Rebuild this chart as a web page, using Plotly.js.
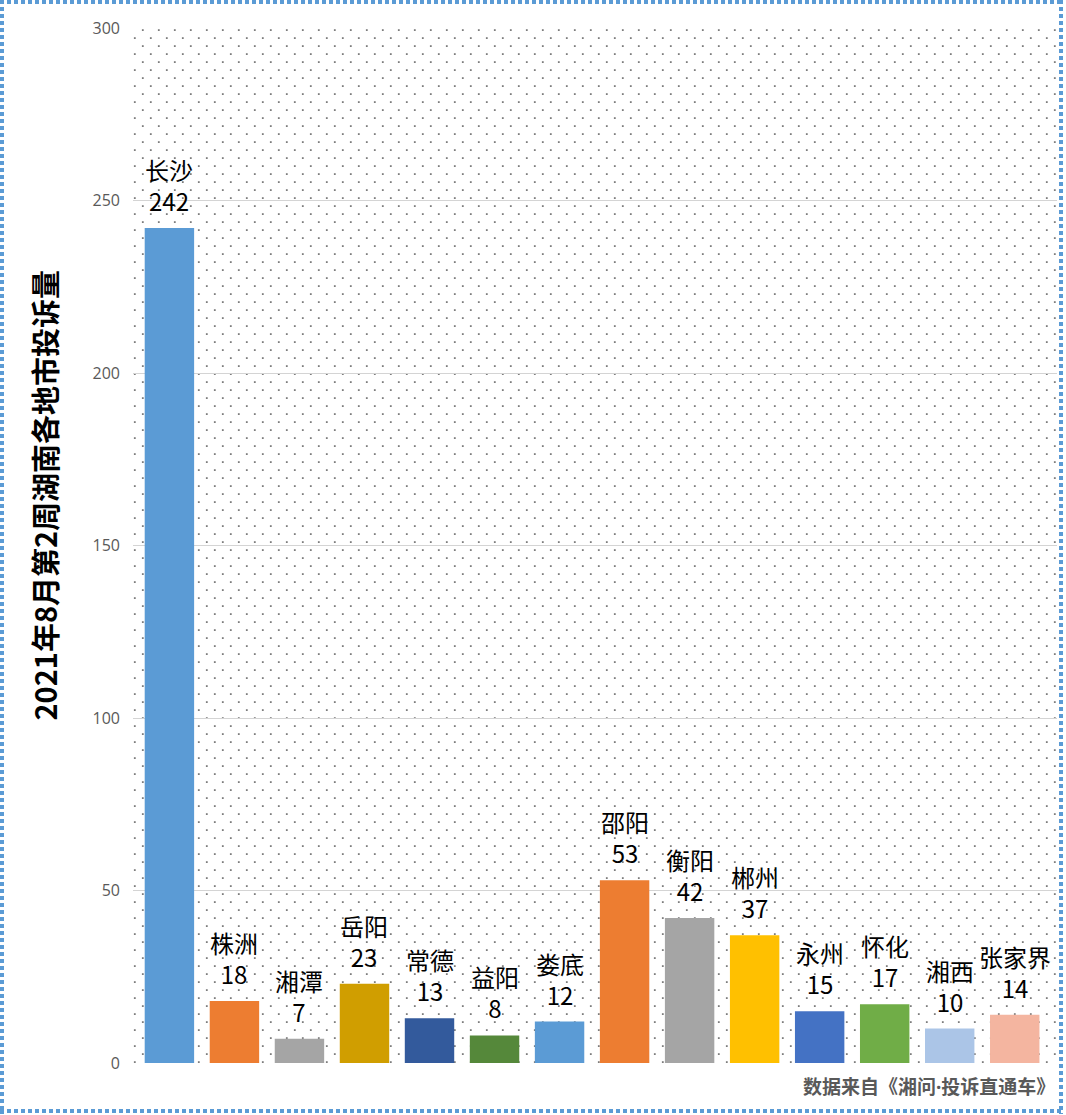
<!DOCTYPE html>
<html>
<head>
<meta charset="utf-8">
<script src="https://cdn.plot.ly/plotly-3.0.1.min.js"></script>
<style>
  html, body { margin: 0; padding: 0; background: #fff; }
  #wrap { position: relative; width: 1066px; height: 1115px; }
  #chart { position: absolute; left: 0; top: 0; width: 1066px; height: 1115px; }
  .edge { position: absolute; }
  .h { height: 4px; left: 0; width: 1064px;
       background: repeating-linear-gradient(to right, #5b9bd5 0 4px, transparent 4px 7px); }
  .v { width: 4px; top: 0; height: 1114px;
       background: repeating-linear-gradient(to bottom, #5b9bd5 0 4px, transparent 4px 7px); }
</style>
</head>
<body>
<div id="wrap">
  <div id="chart"></div>
  <div class="edge h" style="top:0"></div>
  <div class="edge h" style="top:1109px"></div>
  <div class="edge v" style="left:0"></div>
  <div class="edge v" style="left:1059px"></div>
</div>
<script>
const cities = ["长沙","株洲","湘潭","岳阳","常德","益阳","娄底","邵阳","衡阳","郴州","永州","怀化","湘西","张家界"];
const complaints = [242, 18, 7, 23, 13, 8, 12, 53, 42, 37, 15, 17, 10, 14];
const barColors = ["#5b9bd5","#ed7d31","#a5a5a5","#d09e00","#335a9c","#55883a","#5b9bd5","#ed7d31","#a5a5a5","#ffc000","#4472c4","#70ad47","#abc5e7","#f4b5a0"];
const yTicks = [0, 50, 100, 150, 200, 250, 300];
const titleText = "2021年8月第2周湖南各地市投诉量";
const sourceText = "数据来自《湘问·投诉直通车》";

const cjk = '"Microsoft YaHei", "Noto Sans CJK SC", sans-serif';
const mixed = '"Noto Sans", "Noto Sans CJK SC", sans-serif';

const dotSvg = '<svg xmlns="http://www.w3.org/2000/svg" width="924" height="1035" viewBox="0 0 924 1035" preserveAspectRatio="none">' +
  '<defs><pattern id="p" width="16" height="16" patternUnits="userSpaceOnUse">' +
  '<rect x="8.9" y="1.2" width="1.8" height="1.8" fill="#7c7c7c"/>' +
  '<rect x="0.9" y="9.2" width="1.8" height="1.8" fill="#7c7c7c"/>' +
  '</pattern></defs><rect width="924" height="1035" fill="url(#p)"/></svg>';
const dotUri = 'data:image/svg+xml;charset=utf-8,' + encodeURIComponent(dotSvg);

const trace = {
  type: 'bar',
  x: cities,
  y: complaints,
  marker: { color: barColors },
  width: 0.76,
  hoverinfo: 'x+y'
};

const labelAnns = cities.map((c, i) => ({
  x: c, y: complaints[i], xref: 'x', yref: 'y',
  text: c + '<br>' + complaints[i],
  showarrow: false, xanchor: 'center', yanchor: 'bottom', yshift: 8,
  font: { family: cjk, size: 24, color: '#000' }
}));

const layout = {
  width: 1066, height: 1115,
  margin: { l: 133, r: 9, t: 28, b: 52 },
  paper_bgcolor: 'rgba(0,0,0,0)',
  plot_bgcolor: 'rgba(0,0,0,0)',
  showlegend: false,
  xaxis: {
    type: 'category', range: [-0.56, 13.65],
    showticklabels: false, showgrid: false, zeroline: false,
    showline: false, ticks: ''
  },
  yaxis: {
    range: [0, 300], tickvals: yTicks, ticktext: yTicks.map(String),
    showgrid: true, gridcolor: '#d4d4d4', gridwidth: 1.3, zeroline: false,
    showline: false, ticks: '', ticklabelstandoff: 12,
    tickfont: { family: '"Segoe UI", "Open Sans", "Noto Sans", sans-serif', size: 16, color: '#595959' }
  },
  images: [{
    source: dotUri, xref: 'paper', yref: 'paper', x: 0, y: 1,
    sizex: 1, sizey: 1, sizing: 'stretch', xanchor: 'left', yanchor: 'top', layer: 'below'
  }],
  annotations: labelAnns.concat([
    {
      xref: 'paper', yref: 'paper', x: -0.0968, y: 0.5488,
      text: '<b>' + titleText + '</b>', textangle: -90, showarrow: false,
      xanchor: 'center', yanchor: 'middle',
      font: { family: cjk, size: 29, color: '#000' }
    },
    {
      xref: 'paper', yref: 'paper', x: 1.0, y: -0.0232,
      text: '<b>' + sourceText + '</b>', showarrow: false,
      xanchor: 'right', yanchor: 'middle',
      font: { family: mixed, size: 19, color: '#595959' }
    }
  ])
};

Plotly.newPlot('chart', [trace], layout, { displayModeBar: false });
</script>
</body>
</html>
